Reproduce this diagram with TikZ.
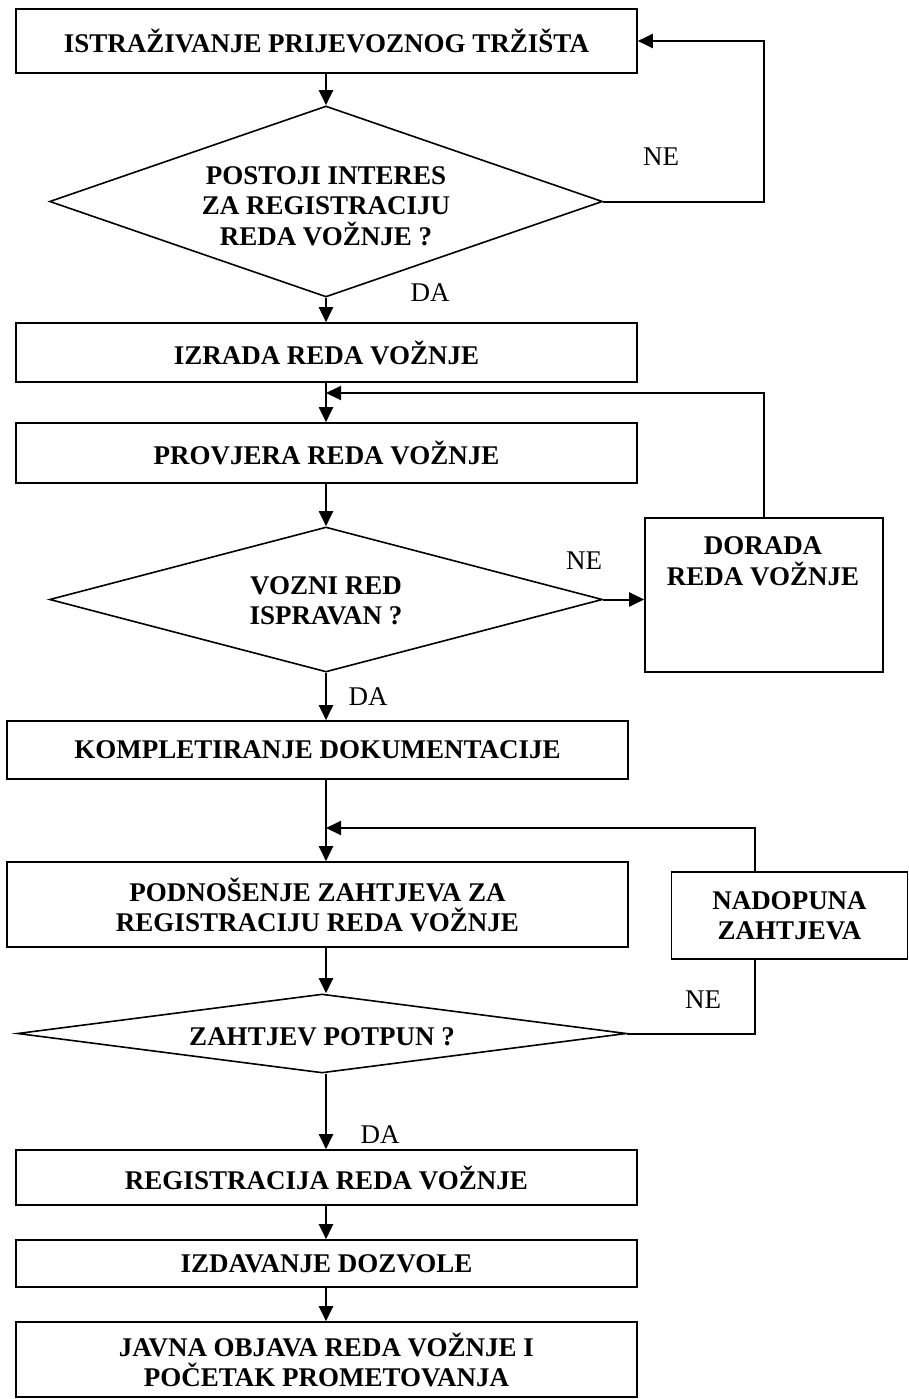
\documentclass[tikz,border=0pt]{standalone}
\usepackage{fontspec}
\setmainfont{Liberation Serif}
\usetikzlibrary{arrows.meta,shapes.geometric}
\begin{document}
\begin{tikzpicture}[x=1pt,y=-1pt,
  box/.style={draw, line width=1.6pt, inner sep=0pt, align=center, font=\fontsize{27}{30}\selectfont\bfseries},
  dia/.style={draw, diamond, line width=1.6pt, inner sep=0pt},
  txt/.style={align=center, font=\fontsize{27}{30.5}\selectfont\bfseries, inner sep=0pt},
  lbl/.style={font=\fontsize{27}{30}\selectfont, inner sep=0pt},
  arr/.style={line width=2pt, -{Triangle[length=15pt,width=14pt]}},
  ln/.style={line width=2pt}]
\useasboundingbox (0,0) rectangle (909,1399);
% nodes
\node[box, minimum width=621pt, minimum height=64pt] (b1) at (326.5,41) {ISTRAŽIVANJE PRIJEVOZNOG TRŽIŠTA};
\node[dia, minimum width=553pt, minimum height=191pt] (d1) at (326,201.5) {};
\node[txt] (d1t) at (326,206) {POSTOJI INTERES\\ZA REGISTRACIJU\\REDA VOŽNJE ?};
\node[box, minimum width=621pt, minimum height=59pt] (b2) at (326.5,352.5) {IZRADA REDA VOŽNJE};
\node[box, minimum width=621pt, minimum height=60pt] (b3) at (326.5,453) {PROVJERA REDA VOŽNJE};
\node[dia, minimum width=553pt, minimum height=145pt] (d2) at (326,599.5) {};
\node[txt] (d2t) at (326,601) {VOZNI RED\\ISPRAVAN ?};
\node[box, minimum width=238pt, minimum height=154pt] (dor) at (764,595) {};
\node[txt] (dort) at (763,561.5) {DORADA\\REDA VOŽNJE};
\node[box, minimum width=621pt, minimum height=58pt] (b4) at (317.5,750) {KOMPLETIRANJE DOKUMENTACIJE};
\node[box, minimum width=621pt, minimum height=85pt] (b5) at (317.5,904.5) {PODNOŠENJE ZAHTJEVA ZA\\REGISTRACIJU REDA VOŽNJE};
\node[box, minimum width=236pt, minimum height=87pt] (nad) at (789.5,915.5) {NADOPUNA\\ZAHTJEVA};
\node[dia, minimum width=609pt, minimum height=79pt] (d3) at (322,1033.5) {};
\node[txt] (d3t) at (322,1036.5) {ZAHTJEV POTPUN ?};
\node[box, minimum width=621pt, minimum height=55pt] (b6) at (326.5,1177.5) {REGISTRACIJA REDA VOŽNJE};
\node[box, minimum width=621pt, minimum height=47pt] (b7) at (326.5,1263.5) {IZDAVANJE DOZVOLE};
\node[box, minimum width=621pt, minimum height=75pt] (b8) at (326.5,1359.5) {JAVNA OBJAVA REDA VOŽNJE I\\POČETAK PROMETOVANJA};
% labels
\node[lbl] (ne1) at (661,157) {NE};
\node[lbl] (da1) at (430,293) {DA};
\node[lbl] (ne2) at (584,561) {NE};
\node[lbl] (da2) at (368,697) {DA};
\node[lbl] (ne3) at (703,1000) {NE};
\node[lbl] (da3) at (380,1135) {DA};
% helper coordinates
\coordinate (ax) at (326,0);
\coordinate (r1) at (764,0);
\coordinate (r3) at (755,0);
\coordinate (j1) at (326,393);
\coordinate (j2) at (326,828);
% connectors
\draw[arr] (ax |- b1.south) -- (d1.north);
\draw[arr] (d1.east) -- (d1.east -| r1) |- (b1.east);
\draw[arr] (d1.south) -- (ax |- b2.north);
\draw[arr] (ax |- b2.south) -- (ax |- b3.north);
\draw[arr] (dor.north) |- (j1);
\draw[arr] (ax |- b3.south) -- (d2.north);
\draw[arr] (d2.east) -- (d2.east -| dor.west);
\draw[arr] (d2.south) -- (ax |- b4.north);
\draw[arr] (ax |- b4.south) -- (ax |- b5.north);
\draw[arr] (nad.north -| r3) |- (j2);
\draw[arr] (ax |- b5.south) -- (ax |- d3.north);
\draw[ln] (d3.east) -- (d3.east -| r3) -- (nad.south -| r3);
\draw[arr] (ax |- d3.south) -- (ax |- b6.north);
\draw[arr] (ax |- b6.south) -- (ax |- b7.north);
\draw[arr] (ax |- b7.south) -- (ax |- b8.north);
\end{tikzpicture}
\end{document}
